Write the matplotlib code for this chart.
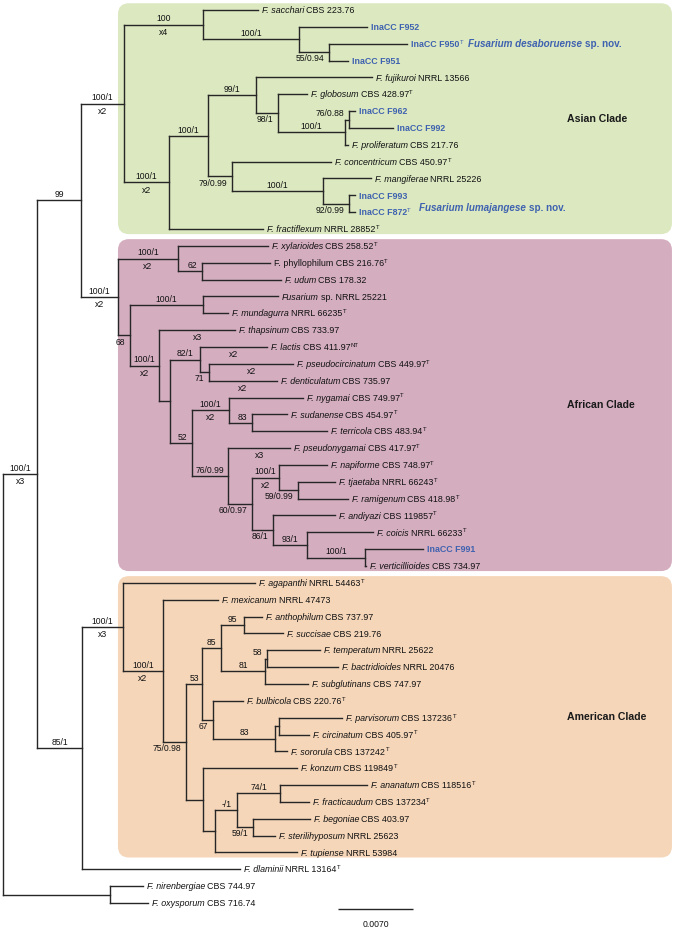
import matplotlib
matplotlib.use("Agg")
import matplotlib.pyplot as plt
from matplotlib.collections import LineCollection
from matplotlib.patches import FancyBboxPatch
from matplotlib.transforms import IdentityTransform, blended_transform_factory

plt.rcParams['font.family'] = ['Liberation Sans', 'DejaVu Sans']

# ---------------- tree topology (top-to-bottom child order) ----------------
children = {
    'R': ['N1', 'OG'],
    'OG': ['nirenbergiae', 'oxysporum'],
    'N1': ['N2', 'N3'],
    'N2': ['A0', 'Af0'],
    'A0': ['A1', 'A4'],
    'A1': ['sacchari', 'A2'],
    'A2': ['F952', 'A3'],
    'A3': ['F950', 'F951'],
    'A4': ['A5', 'fractiflexum'],
    'A5': ['A6', 'A10'],
    'A6': ['fujikuroi', 'A7'],
    'A7': ['globosum', 'A8'],
    'A8': ['A9', 'proliferatum'],
    'A9': ['F962', 'F992'],
    'A10': ['concentricum', 'A11'],
    'A11': ['mangiferae', 'A12'],
    'A12': ['F993', 'F872'],
    'Af0': ['Af1', 'Af4'],
    'Af1': ['xylarioides', 'Af2'],
    'Af2': ['phyllophilum', 'udum'],
    'Af4': ['Af3', 'Af5'],
    'Af3': ['fussp', 'mundagurra'],
    'Af5': ['thapsinum', 'Af6'],
    'Af6': ['Af7', 'Af11'],
    'Af7': ['lactis', 'Af8'],
    'Af8': ['pseudocircinatum', 'denticulatum'],
    'Af11': ['Af9', 'Af12'],
    'Af9': ['nygamai', 'Af10'],
    'Af10': ['sudanense', 'terricola'],
    'Af12': ['pseudonygamai', 'Af13'],
    'Af13': ['Af14', 'Af15'],
    'Af14': ['napiforme', 'Af18'],
    'Af18': ['tjaetaba', 'ramigenum'],
    'Af15': ['andiyazi', 'Af16'],
    'Af16': ['coicis', 'Af17'],
    'Af17': ['F991', 'verticillioides'],
    'N3': ['Am0', 'dlaminii'],
    'Am0': ['agapanthi', 'Am1'],
    'Am1': ['mexicanum', 'Am2'],
    'Am2': ['Am3', 'Am8'],
    'Am3': ['Am4', 'Am5'],
    'Am4': ['Am95', 'Am81'],
    'Am95': ['anthophilum', 'succisae'],
    'Am81': ['Am58', 'subglutinans'],
    'Am58': ['temperatum', 'bactridioides'],
    'Am5': ['bulbicola', 'Am6'],
    'Am6': ['Am7', 'sororula'],
    'Am7': ['parvisorum', 'circinatum'],
    'Am8': ['konzum', 'Am9'],
    'Am9': ['Am10', 'tupiense'],
    'Am10': ['Am11', 'Am12'],
    'Am11': ['ananatum', 'fracticaudum'],
    'Am12': ['begoniae', 'sterilihyposum'],
}

# ---------------- distance from root (substitutions/site) ----------------
depth = {
    'R': 0.0, 'OG': 0.00999, 'nirenbergiae': 0.01307, 'oxysporum': 0.01353,
    'N1': 0.00317, 'N2': 0.00728, 'N3': 0.00737,
    'A0': 0.01129, 'A1': 0.01867, 'sacchari': 0.02380, 'A2': 0.02763,
    'F952': 0.03397, 'A3': 0.03043, 'F950': 0.03771, 'F951': 0.03220,
    'A4': 0.01549, 'A5': 0.01913, 'A6': 0.02361, 'fujikuroi': 0.03444,
    'A7': 0.02567, 'globosum': 0.02837, 'A8': 0.03192, 'A9': 0.03229,
    'F962': 0.03285, 'F992': 0.03640, 'proliferatum': 0.03220,
    'A10': 0.02137, 'concentricum': 0.03061, 'A11': 0.02987,
    'mangiferae': 0.03435, 'A12': 0.03229, 'F993': 0.03285, 'F872': 0.03285,
    'fractiflexum': 0.02427,
    'Af0': 0.01073, 'Af1': 0.01633, 'xylarioides': 0.02473, 'Af2': 0.01857,
    'phyllophilum': 0.02492, 'udum': 0.02595, 'Af4': 0.01185, 'Af3': 0.01867,
    'fussp': 0.02567, 'mundagurra': 0.02100, 'Af5': 0.01456,
    'thapsinum': 0.02165, 'Af6': 0.01559, 'Af7': 0.01839, 'lactis': 0.02464,
    'Af8': 0.01923, 'pseudocircinatum': 0.02707, 'denticulatum': 0.02557,
    'Af11': 0.01764, 'Af9': 0.02109, 'nygamai': 0.02800, 'Af10': 0.02324,
    'sudanense': 0.02651, 'terricola': 0.03024, 'Af12': 0.02100,
    'pseudonygamai': 0.02679, 'Af13': 0.02324, 'Af14': 0.02576,
    'napiforme': 0.03024, 'Af18': 0.02753, 'tjaetaba': 0.03099,
    'ramigenum': 0.03220, 'Af15': 0.02520, 'andiyazi': 0.03099,
    'Af16': 0.02837, 'coicis': 0.03453, 'Af17': 0.03379, 'F991': 0.03920,
    'verticillioides': 0.03388,
    'Am0': 0.01120, 'agapanthi': 0.02352, 'Am1': 0.01493, 'mexicanum': 0.02007,
    'Am2': 0.01708, 'Am3': 0.01857, 'Am4': 0.02035, 'Am95': 0.02249,
    'anthophilum': 0.02417, 'succisae': 0.02613, 'Am81': 0.02445,
    'Am58': 0.02464, 'temperatum': 0.02959, 'bactridioides': 0.03127,
    'subglutinans': 0.02847, 'Am5': 0.01960, 'bulbicola': 0.02240,
    'Am6': 0.02539, 'Am7': 0.02576, 'parvisorum': 0.03164,
    'circinatum': 0.02856, 'sororula': 0.02651, 'Am8': 0.01867,
    'konzum': 0.02744, 'Am9': 0.01979, 'Am10': 0.02184, 'Am11': 0.02585,
    'ananatum': 0.03397, 'fracticaudum': 0.02856, 'Am12': 0.02333,
    'begoniae': 0.02865, 'sterilihyposum': 0.02539, 'tupiense': 0.02744,
    'dlaminii': 0.02212,
}

# ---------------- leaf labels: (italic part, plain part, superscript) ----------------
leaf_labels = {
    'sacchari': ('F. sacchari', 'CBS 223.76', ''),
    'F952': ('', 'InaCC F952', ''),
    'F950': ('', 'InaCC F950', 'T'),
    'F951': ('', 'InaCC F951', ''),
    'fujikuroi': ('F. fujikuroi', 'NRRL 13566', ''),
    'globosum': ('F. globosum', 'CBS 428.97', 'T'),
    'F962': ('', 'InaCC F962', ''),
    'F992': ('', 'InaCC F992', ''),
    'proliferatum': ('F. proliferatum', 'CBS 217.76', ''),
    'concentricum': ('F. concentricum', 'CBS 450.97', 'T'),
    'mangiferae': ('F. mangiferae', 'NRRL 25226', ''),
    'F993': ('', 'InaCC F993', ''),
    'F872': ('', 'InaCC F872', 'T'),
    'fractiflexum': ('F. fractiflexum', 'NRRL 28852', 'T'),
    'xylarioides': ('F. xylarioides', 'CBS 258.52', 'T'),
    'phyllophilum': ('', 'F. phyllophilum CBS 216.76', 'T'),
    'udum': ('F. udum', 'CBS 178.32', ''),
    'fussp': ('Fusarium', 'sp. NRRL 25221', ''),
    'mundagurra': ('F. mundagurra', 'NRRL 66235', 'T'),
    'thapsinum': ('F. thapsinum', 'CBS 733.97', ''),
    'lactis': ('F. lactis', 'CBS 411.97', 'NT'),
    'pseudocircinatum': ('F. pseudocircinatum', 'CBS 449.97', 'T'),
    'denticulatum': ('F. denticulatum', 'CBS 735.97', ''),
    'nygamai': ('F. nygamai', 'CBS 749.97', 'T'),
    'sudanense': ('F. sudanense', 'CBS 454.97', 'T'),
    'terricola': ('F. terricola', 'CBS 483.94', 'T'),
    'pseudonygamai': ('F. pseudonygamai', 'CBS 417.97', 'T'),
    'napiforme': ('F. napiforme', 'CBS 748.97', 'T'),
    'tjaetaba': ('F. tjaetaba', 'NRRL 66243', 'T'),
    'ramigenum': ('F. ramigenum', 'CBS 418.98', 'T'),
    'andiyazi': ('F. andiyazi', 'CBS 119857', 'T'),
    'coicis': ('F. coicis', 'NRRL 66233', 'T'),
    'F991': ('', 'InaCC F991', ''),
    'verticillioides': ('F. verticillioides', 'CBS 734.97', ''),
    'agapanthi': ('F. agapanthi', 'NRRL 54463', 'T'),
    'mexicanum': ('F. mexicanum', 'NRRL 47473', ''),
    'anthophilum': ('F. anthophilum', 'CBS 737.97', ''),
    'succisae': ('F. succisae', 'CBS 219.76', ''),
    'temperatum': ('F. temperatum', 'NRRL 25622', ''),
    'bactridioides': ('F. bactridioides', 'NRRL 20476', ''),
    'subglutinans': ('F. subglutinans', 'CBS 747.97', ''),
    'bulbicola': ('F. bulbicola', 'CBS 220.76', 'T'),
    'parvisorum': ('F. parvisorum', 'CBS 137236', 'T'),
    'circinatum': ('F. circinatum', 'CBS 405.97', 'T'),
    'sororula': ('F. sororula', 'CBS 137242', 'T'),
    'konzum': ('F. konzum', 'CBS 119849', 'T'),
    'ananatum': ('F. ananatum', 'CBS 118516', 'T'),
    'fracticaudum': ('F. fracticaudum', 'CBS 137234', 'T'),
    'begoniae': ('F. begoniae', 'CBS 403.97', ''),
    'sterilihyposum': ('F. sterilihyposum', 'NRRL 25623', ''),
    'tupiense': ('F. tupiense', 'NRRL 53984', ''),
    'dlaminii': ('F. dlaminii', 'NRRL 13164', 'T'),
    'nirenbergiae': ('F. nirenbergiae', 'CBS 744.97', ''),
    'oxysporum': ('F. oxysporum', 'CBS 716.74', ''),
}
new_isolates = ['F952', 'F950', 'F951', 'F962', 'F992', 'F993', 'F872', 'F991']

# ---------------- support values: node -> [(text, placement)] ----------------
# ab = above branch, bb = below branch, la = left of node above, lb = left of node below
support = {
    'N1': [('100/1', 'ab'), ('x3', 'bb')], 'N2': [('99', 'ab')], 'N3': [('85/1', 'ab')],
    'A0': [('100/1', 'ab'), ('x2', 'bb')], 'A1': [('100', 'ab'), ('x4', 'bb')],
    'A2': [('100/1', 'ab')], 'A3': [('55/0.94', 'lb')],
    'A4': [('100/1', 'ab'), ('x2', 'bb')], 'A5': [('100/1', 'ab')],
    'A6': [('99/1', 'ab')], 'A7': [('98/1', 'lb')], 'A8': [('100/1', 'ab')],
    'A9': [('76/0.88', 'la')], 'A10': [('79/0.99', 'lb')], 'A11': [('100/1', 'ab')],
    'A12': [('92/0.99', 'lb')],
    'Af0': [('100/1', 'ab'), ('x2', 'bb')], 'Af1': [('100/1', 'ab'), ('x2', 'bb')],
    'Af2': [('62', 'la')], 'Af3': [('100/1', 'ab')], 'Af4': [('68', 'lb')],
    'Af5': [('100/1', 'ab'), ('x2', 'bb')], 'Af7': [('82/1', 'ab')], 'Af8': [('71', 'lb')],
    'Af9': [('100/1', 'ab'), ('x2', 'bb')], 'Af10': [('83', 'la')], 'Af11': [('52', 'la')],
    'Af12': [('76/0.99', 'ab')], 'Af13': [('60/0.97', 'lb')],
    'Af14': [('100/1', 'ab'), ('x2', 'bb')], 'Af15': [('86/1', 'lb')],
    'Af16': [('93/1', 'ab')], 'Af17': [('100/1', 'ab')], 'Af18': [('59/0.99', 'lb')],
    'thapsinum': [('x3', 'bb')], 'lactis': [('x2', 'bb')],
    'pseudocircinatum': [('x2', 'bb')], 'denticulatum': [('x2', 'bb')],
    'pseudonygamai': [('x3', 'bb')],
    'Am0': [('100/1', 'ab'), ('x3', 'bb')], 'Am1': [('100/1', 'ab'), ('x2', 'bb')],
    'Am2': [('75/0.98', 'lb')], 'Am3': [('53', 'ab')], 'Am4': [('85', 'ab')],
    'Am95': [('95', 'ab')], 'Am81': [('81', 'ab')], 'Am58': [('58', 'la')],
    'Am5': [('67', 'lb')], 'Am6': [('83', 'ab')], 'Am10': [('-/1', 'la')],
    'Am11': [('74/1', 'ab')], 'Am12': [('59/1', 'lb')],
}

clades = [('Asian Clade', 'A0', '#dbe8c0'),
          ('African Clade', 'Af0', '#d4adbf'),
          ('American Clade', 'Am0', '#f5d6b9')]
new_species = [('Fusarium desaboruense', 'F950'), ('Fusarium lumajangese', 'F872')]
scale_length = 0.0070
scale_label = '0.0070'

# ---------------- layout ----------------
LINE = '#262626'
TXT = '#111111'
BLUE = '#3f62b0'
FS_LEAF = 6.4
FS_SUPS = 4.3
FS_NUM = 6.2

parent = {c: p for p, cs in children.items() for c in cs}
leaf_order = []
def dfs(n):
    if n in children:
        for c in children[n]:
            dfs(c)
    else:
        leaf_order.append(n)
dfs('R')
ypos = {l: i for i, l in enumerate(leaf_order)}
def set_y(n):
    if n in children:
        ys = [set_y(c) for c in children[n]]
        ypos[n] = (ys[0] + ys[-1]) / 2.0
    return ypos[n]
set_y('R')

def leaves_under(n):
    if n not in children:
        return [n]
    out = []
    for c in children[n]:
        out += leaves_under(c)
    return out

fig = plt.figure(figsize=(6.76, 9.34), dpi=100)
ax = fig.add_axes([0, 0, 1, 1])
n_leaf = len(leaf_order)
xmin, xmax = -0.00028, 0.06281
ymin_lim, ymax_lim = -0.5935, n_leaf + 0.84
ax.set_xlim(xmin, xmax)
ax.set_ylim(ymax_lim, ymin_lim)
ax.axis('off')

# clade boxes (rounded, drawn in display space so corners stay round)
box_left = min(depth[r] for _, r, _ in clades)
for name, root, col in clades:
    lv = leaves_under(root)
    top = min(ypos[l] for l in lv) - 0.40
    bot = max(ypos[l] for l in lv) + 0.30
    x0d, ytd = ax.transData.transform((box_left, top))
    _, ybd = ax.transData.transform((box_left, bot))
    x1d = ax.transAxes.transform((0.994, 0))[0]
    patch = FancyBboxPatch((x0d, ybd), x1d - x0d, ytd - ybd,
                           boxstyle='round,pad=0,rounding_size=11',
                           transform=IdentityTransform(), fc=col, ec='none', zorder=0)
    ax.add_artist(patch)
    tr = blended_transform_factory(ax.transAxes, ax.transData)
    ax.text(0.839, (top + bot) / 2, name, transform=tr, fontsize=7.6,
            fontweight='bold', ha='left', va='center', color='#1a1a1a', zorder=3)

# branches
segs = []
for n, cs in children.items():
    segs.append([(depth[n], ypos[cs[0]]), (depth[n], ypos[cs[-1]])])
for n, p in parent.items():
    segs.append([(depth[p], ypos[n]), (depth[n], ypos[n])])
ax.add_collection(LineCollection(segs, colors=LINE, linewidths=1.0,
                                 capstyle='projecting', zorder=2))

# leaf labels (italic part + plain part + superscript, chained)
leaf_text_obj = {}
for l in leaf_order:
    it, plain, sup = leaf_labels[l]
    is_new = l in new_isolates
    col = BLUE if is_new else TXT
    wt = 'bold' if is_new else 'normal'
    last = None
    if it:
        last = ax.annotate(it, xy=(depth[l], ypos[l]), xytext=(2.6, -2.3),
                           textcoords='offset points', ha='left', va='baseline',
                           fontsize=FS_LEAF, style='italic', color=col, zorder=3)
    if plain:
        if last is None:
            last = ax.annotate(plain, xy=(depth[l], ypos[l]), xytext=(2.6, -2.3),
                               textcoords='offset points', ha='left', va='baseline',
                               fontsize=FS_LEAF, color=col, fontweight=wt, zorder=3)
        else:
            last = ax.annotate(plain, xy=(1, 0), xycoords=last, xytext=(1.75, 0),
                               textcoords='offset points', ha='left', va='bottom',
                               fontsize=FS_LEAF, color=col, fontweight=wt, zorder=3)
    if sup:
        ax.annotate(sup, xy=(1, 1), xycoords=last, xytext=(0.3, 0.2),
                    textcoords='offset points', ha='left', va='top',
                    fontsize=FS_SUPS, color=col, zorder=3)
    leaf_text_obj[l] = last

# new species annotations
for sp, anchor in new_species:
    ref = leaf_text_obj[anchor]
    if anchor == 'F950':
        t1 = ax.annotate(sp, xy=(1, 0), xycoords=ref, xytext=(6.5, 0),
                         textcoords='offset points', ha='left', va='bottom',
                         fontsize=7.1, fontweight='bold', style='italic', color=BLUE, zorder=3)
    else:
        t1 = ax.annotate(sp, xy=(1, 1), xycoords=ref, xytext=(9, 0.5),
                         textcoords='offset points', ha='left', va='center',
                         fontsize=7.1, fontweight='bold', style='italic', color=BLUE, zorder=3)
    ax.annotate('sp. nov.', xy=(1, 0), xycoords=t1, xytext=(2.2, 0),
                textcoords='offset points', ha='left', va='bottom',
                fontsize=7.1, fontweight='bold', color=BLUE, zorder=3)

# support values
for n, items in support.items():
    p = parent[n]
    xm = (depth[p] + depth[n]) / 2.0
    for txt, pos in items:
        if pos == 'ab':
            ax.annotate(txt, xy=(xm, ypos[n]), xytext=(0, 0.9), textcoords='offset points',
                        ha='center', va='bottom', fontsize=FS_NUM, color=TXT, zorder=3)
        elif pos == 'bb':
            ax.annotate(txt, xy=(xm, ypos[n]), xytext=(0, -2.3), textcoords='offset points',
                        ha='center', va='top', fontsize=FS_NUM, color=TXT, zorder=3)
        elif pos == 'la':
            ax.annotate(txt, xy=(depth[n], ypos[n]), xytext=(-3.6, 0.9), textcoords='offset points',
                        ha='right', va='bottom', fontsize=FS_NUM, color=TXT, zorder=3)
        else:
            ax.annotate(txt, xy=(depth[n], ypos[n]), xytext=(-3.6, -1.6), textcoords='offset points',
                        ha='right', va='top', fontsize=FS_NUM, color=TXT, zorder=3)

# scale bar
scale_x0 = 0.03127
scale_y = n_leaf - 0.65
ax.plot([scale_x0, scale_x0 + scale_length], [scale_y, scale_y], color=LINE, lw=1.0,
        solid_capstyle='butt', zorder=2)
ax.text(scale_x0 + scale_length / 2, scale_y + 0.95, scale_label, ha='center', va='center',
        fontsize=FS_NUM, color=TXT)

ax.set_xlim(xmin, xmax)
ax.set_ylim(ymax_lim, ymin_lim)
fig.savefig('out.png', dpi=100, facecolor='white')
